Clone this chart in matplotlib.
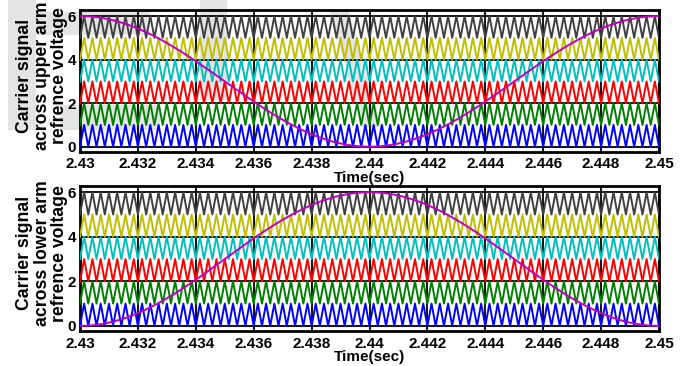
import numpy as np
import matplotlib
matplotlib.use("Agg")
import matplotlib.pyplot as plt
from matplotlib.patches import Polygon

# ---- data ----
t_start = 2.43
t_end = 2.45
carrier_levels = [0, 1, 2, 3, 4, 5]
carrier_colors = ["#0000ff", "#008000", "#ff0000", "#00bfbf", "#bfbf00", "#404040"]
carrier_freq_hz = 3500.0
ref_freq_hz = 50.0
ref_offset = 3.0
ref_amplitude = 3.0
x_ticks = [2.43, 2.432, 2.434, 2.436, 2.438, 2.44, 2.442, 2.444, 2.446, 2.448, 2.45]
y_ticks = [0, 2, 4, 6]
ylabels = ["Carrier signal\nacross upper arm\nrefrence voltage",
           "Carrier signal\nacross lower arm\nrefrence voltage"]
ref_sign = [1, -1]

plt.rcParams['font.family'] = ['Liberation Sans', 'DejaVu Sans']
plt.rcParams['font.weight'] = 'bold'

fig = plt.figure(figsize=(6.86, 3.66), dpi=100)
W, H = 686, 366
axes_px = [(80, 10, 659, 151.7), (80, 186, 659, 331.0)]

# faint watermark shapes behind the plots (pixel coords)
wm_shapes = [
    [(8, 0), (36, 0), (36, 130), (8, 130)],
    [(36, 12), (150, 12), (150, 35), (36, 35)],
    [(60, 105), (160, 105), (160, 130), (60, 130)],
    [(200, 0), (227, 0), (227, 100), (200, 100)],
    [(330, 10), (348, 10), (382, 127), (362, 127)],
]
for shp in wm_shapes:
    pts = [(x / W, 1 - y / H) for x, y in shp]
    fig.patches.append(Polygon(pts, closed=True, transform=fig.transFigure,
                               facecolor="#e4e4e4", edgecolor="none", zorder=-1))

half_period = 0.5 / carrier_freq_hz
n_half = int(round((t_end - t_start) / half_period))
t_vert = t_start + half_period * np.arange(n_half + 1)
t_ref = np.linspace(t_start, t_end, 600)

for i, (l, tp, r, b) in enumerate(axes_px):
    ax = fig.add_axes([l / W, 1 - b / H, (r - l) / W, (b - tp) / H])
    ax.patch.set_facecolor("none")
    for lvl, col in zip(carrier_levels, carrier_colors):
        vals = lvl + (np.arange(n_half + 1) % 2)
        ax.plot(t_vert, vals, color=col, lw=1.4, zorder=3)
    ref = ref_offset + ref_sign[i] * ref_amplitude * np.cos(2 * np.pi * ref_freq_hz * (t_ref - t_start))
    ax.plot(t_ref, ref, color="#bf00bf", lw=1.4, zorder=4)
    ax.set_xlim(t_start, t_end)
    ax.set_ylim(-0.23, 6.28)
    ax.set_xticks(x_ticks)
    ax.set_xticklabels(["%g" % v for v in x_ticks])
    ax.set_yticks(y_ticks)
    ax.grid(True, color="black", lw=1.3, ls="-", zorder=1)
    ax.set_axisbelow(True)
    ax.tick_params(axis="x", direction="in", length=0, labelsize=11, pad=4)
    ax.tick_params(axis="y", direction="in", length=0, labelsize=11, pad=3)
    for lab in ax.get_xticklabels() + ax.get_yticklabels():
        lab.set_fontweight("bold")
    for sp in ax.spines.values():
        sp.set_linewidth(2.0)
    ax.set_xlabel("Time(sec)", fontsize=11, fontweight="bold", labelpad=-0.5)
    ax.set_ylabel(ylabels[i], fontsize=12.7, fontweight="bold", linespacing=1.02)
    ax.yaxis.set_label_coords(-0.021, 0.535)

fig.savefig("out.png", dpi=100)
